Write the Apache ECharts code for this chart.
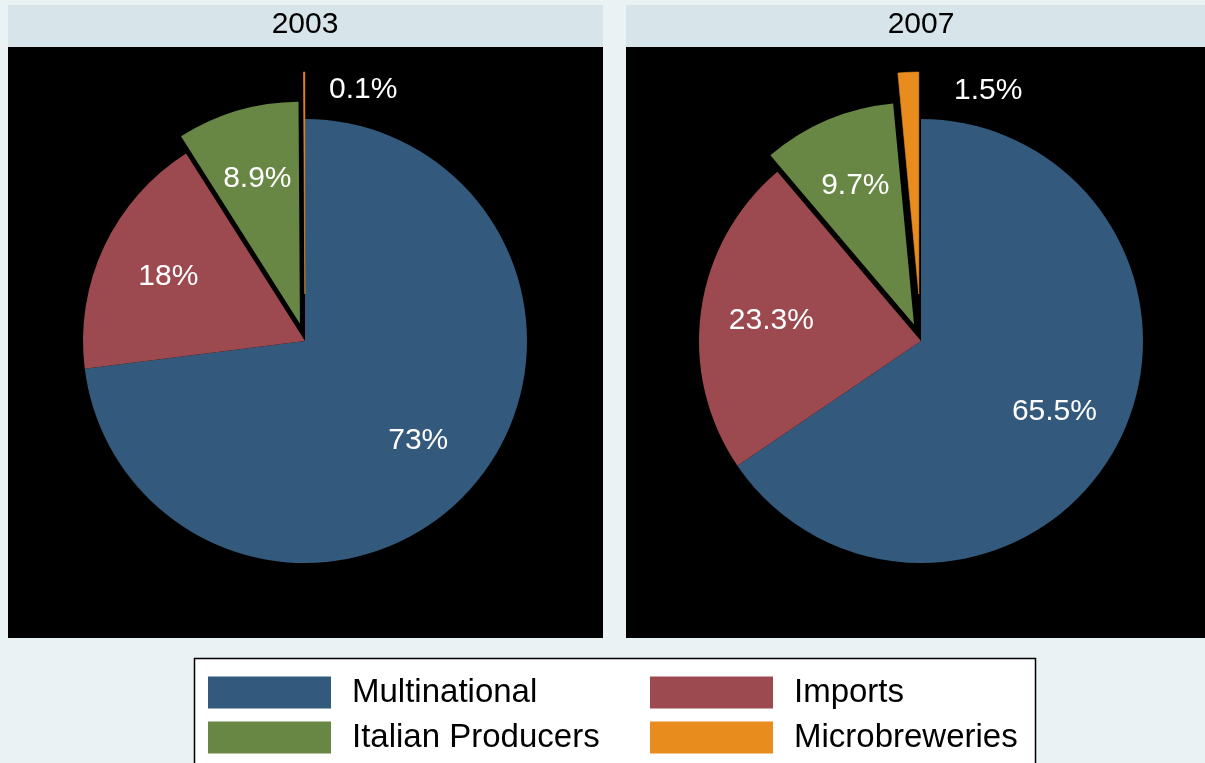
<!DOCTYPE html>
<html>
<head>
<meta charset="utf-8">
<script src="https://cdn.jsdelivr.net/npm/echarts@6/dist/echarts.min.js"></script>
<style>
html,body{margin:0;padding:0;background:#EAF2F3;}
#chart{width:1205px;height:763px;}
</style>
</head>
<body>
<div id="chart"></div>
<script>
const categories = ['Multinational', 'Imports', 'Italian Producers', 'Microbreweries'];
const years = ['2003', '2007'];
const share2003 = [73, 18, 8.9, 0.1];
const share2007 = [65.5, 23.3, 9.7, 1.5];

const colors = ['#33597C', '#9C4A50', '#688644', '#E88C1E'];
const FONT = '"Liberation Sans", Arial, sans-serif';
const CLEAR = 'rgba(0,0,0,0)';
const CY = 341, R = 222;

function pieSeries(cx, values, microPad) {
  const base = {
    type: 'pie', center: [cx, CY], startAngle: 90, clockwise: true,
    animation: false, silent: true, selectedMode: 'multiple',
    labelLine: { show: false }, emphasis: { disabled: true },
    itemStyle: { borderWidth: 0 }
  };
  const main = Object.assign({}, base, {
    radius: R, selectedOffset: 18, label: { show: false },
    data: values.map((v, i) => ({
      name: categories[i], value: v, selected: i === 2,
      itemStyle: { color: i === 3 ? CLEAR : colors[i] }
    }))
  });
  const micro = Object.assign({}, base, {
    radius: R, selectedOffset: 47, label: { show: false },
    data: values.map((v, i) => ({
      name: categories[i], value: v, selected: i === 3,
      itemStyle: i === 3 ? { color: colors[i], borderColor: colors[i], borderWidth: 0.6 } : { color: CLEAR }
    }))
  });
  const labels = Object.assign({}, base, {
    radius: 296, selectedOffset: 18,
    label: { show: true, position: 'inside', color: '#fff', fontSize: 30, fontFamily: FONT, formatter: '{c}%' },
    data: values.map((v, i) => ({
      name: categories[i], value: v, selected: i === 2,
      itemStyle: { color: CLEAR },
      label: { show: i < 3, padding: [4, 0, 0, 0] }
    }))
  });
  const microLabel = Object.assign({}, base, {
    radius: 496,
    label: { show: true, position: 'inside', color: '#fff', fontSize: 30, fontFamily: FONT, formatter: '{c}%' },
    data: values.map((v, i) => ({
      name: categories[i], value: v,
      itemStyle: { color: CLEAR },
      label: { show: i === 3, padding: [2, 0, 0, microPad] }
    }))
  });
  return [main, micro, labels, microLabel];
}

const chart = echarts.init(document.getElementById('chart'), null, { renderer: 'canvas' });

const option = {
  backgroundColor: '#EAF2F3',
  animation: false,
  title: [
    { text: years[0], left: 305, top: 10, textAlign: 'center', padding: 0,
      textStyle: { fontSize: 30, fontWeight: 'normal', color: '#000', fontFamily: FONT } },
    { text: years[1], left: 921, top: 10, textAlign: 'center', padding: 0,
      textStyle: { fontSize: 30, fontWeight: 'normal', color: '#000', fontFamily: FONT } }
  ],
  graphic: [
    { type: 'rect', z: -10, shape: { x: 8, y: 5, width: 595, height: 42 }, style: { fill: '#D7E5EA' } },
    { type: 'rect', z: -10, shape: { x: 626, y: 5, width: 579, height: 42 }, style: { fill: '#D7E5EA' } },
    { type: 'rect', z: -9, shape: { x: 8, y: 47, width: 595, height: 591 }, style: { fill: '#000' } },
    { type: 'rect', z: -9, shape: { x: 626, y: 47, width: 579, height: 591 }, style: { fill: '#000' } },
    { type: 'rect', z: -9, shape: { x: 194.5, y: 658.5, width: 841, height: 120 }, style: { fill: '#fff', stroke: '#000', lineWidth: 1.5 } }
  ],
  legend: [
    { left: 208, top: 676, orient: 'vertical', itemWidth: 123, itemHeight: 32, itemGap: 12, padding: 0,
      icon: 'rect', selectedMode: false,
      textStyle: { fontSize: 33, color: '#000', fontFamily: FONT, padding: [3, 0, 0, 16] },
      data: [ { name: categories[0], itemStyle: { color: colors[0] } },
              { name: categories[2], itemStyle: { color: colors[2] } } ] },
    { left: 650, top: 676, orient: 'vertical', itemWidth: 123, itemHeight: 32, itemGap: 12, padding: 0,
      icon: 'rect', selectedMode: false,
      textStyle: { fontSize: 33, color: '#000', fontFamily: FONT, padding: [3, 0, 0, 16] },
      data: [ { name: categories[1], itemStyle: { color: colors[1] } },
              { name: categories[3], itemStyle: { color: colors[3] } } ] }
  ],
  series: [].concat(pieSeries(305, share2003, 118), pieSeries(921, share2007, 158))
};
chart.setOption(option);
</script>
</body>
</html>
